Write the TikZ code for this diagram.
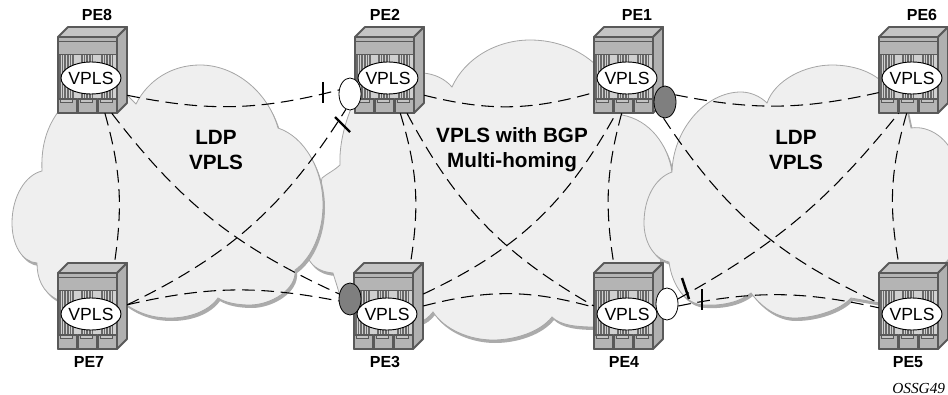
\documentclass[tikz,border=0pt]{standalone}
\usepackage{fontspec}
\setmainfont{Liberation Sans}
\newfontfamily\figfont{Liberation Serif}
\usetikzlibrary{shapes.geometric}
\definecolor{cloudfill}{HTML}{EFEFEF}
\definecolor{cloudedge}{HTML}{A6A6A6}
\definecolor{cloudshade}{HTML}{ABABAB}
\definecolor{rackedge}{HTML}{595959}
\definecolor{racktop}{HTML}{C4C4C4}
\definecolor{rackside}{HTML}{B0B0B0}
\definecolor{rackfront}{HTML}{B4B4B4}
\definecolor{rackgrill}{HTML}{D0D0D0}
\definecolor{rackbar}{HTML}{6A6A6A}
\definecolor{hopdark}{HTML}{7F7F7F}

\begin{document}
\begin{tikzpicture}[x=0.75pt,y=-0.75pt,
	cloudbox/.style={fill=cloudfill, draw=cloudedge, line width=0.6pt},
	cloudback/.style={fill=cloudshade},
	rackline/.style={draw=rackedge, line width=1.4pt, line join=round},
	routerbox/.style={rectangle, inner sep=0, minimum width=51.75pt, minimum height=64.5pt},
	vplsoval/.style={ellipse, draw=black, line width=0.7pt, fill=white, inner sep=-2.5pt, minimum width=45pt, minimum height=24pt, font=\fontsize{13.2}{15}\selectfont},
	hopoval/.style={ellipse, draw=black, line width=0.6pt, inner sep=0, minimum width=16.5pt, minimum height=24pt},
	pwline/.style={dashed, dash pattern=on 9.5pt off 5pt, line width=0.8pt},
	hopbar/.style={line width=1.8pt},
	pelabel/.style={inner sep=0, font=\fontsize{12}{14}\selectfont\bfseries},
	cloudtitle/.style={inner sep=0, align=center, font=\fontsize{15.5}{18.75}\selectfont\bfseries}]
	\clip (0,0) rectangle (948,395);
	\def\routerlist{PE8/58/37, PE2/355/37, PE1/594/37, PE6/879/37, PE7/58/273, PE3/354/273, PE4/594/273, PE5/879/273}
	%% ========================================================
	\def\midcloud{(400,70) -- (423,73) .. controls (435,74) and (445,79) .. (452,87)
		.. controls (465,58) and (497,40) .. (530,40) .. controls (557,40) and (580,50) .. (596,65)
		-- (622,115) .. controls (650,120) and (668,145) .. (672,172) -- (660,265) -- (595,327)
		.. controls (575,327) and (560,325) .. (552,317) .. controls (540,332) and (515,340) .. (493,340)
		.. controls (470,340) and (445,330) .. (433,312) .. controls (428,318) and (425,320) .. (420,322)
		-- (345,310) -- (340,297) .. controls (338,288) and (335,280) .. (333,273)
		.. controls (322,272) and (313,268) .. (308,258) -- (322,178)
		.. controls (328,173) and (335,170) .. (340,165) .. controls (339,145) and (345,120) .. (355,100) -- cycle}
	\def\leftcloud{(136,104) .. controls (148,80) and (172,65) .. (200,65) .. controls (235,65) and (268,92) .. (278,128)
		.. controls (305,137) and (323,170) .. (323,205) .. controls (323,232) and (312,258) .. (295,270)
		.. controls (297,290) and (270,305) .. (250,305) .. controls (238,305) and (226,303) .. (218,298)
		.. controls (208,312) and (188,318) .. (170,318) .. controls (150,318) and (135,312) .. (120,300)
		-- (58,300) .. controls (42,292) and (37,278) .. (37,263) .. controls (22,262) and (12,245) .. (12,223)
		.. controls (12,197) and (25,175) .. (42,171) .. controls (41,150) and (45,130) .. (58,112)
		-- (100,90) -- (127,95) -- cycle}
	\def\rightcloud{(767,103) .. controls (775,80) and (805,65) .. (832,65) .. controls (850,65) and (868,70) .. (880,80)
		-- (905,100) -- (911,128) .. controls (930,125) and (950,140) .. (955,160) -- (955,250)
		.. controls (950,258) and (945,265) .. (937,267) -- (880,303) -- (851,298)
		.. controls (840,310) and (815,318) .. (794,318) .. controls (775,318) and (760,305) .. (751,293)
		.. controls (740,302) and (722,306) .. (705,305) .. controls (685,305) and (672,285) .. (669,262)
		.. controls (652,258) and (644,240) .. (644,223) .. controls (644,198) and (655,178) .. (672,172)
		.. controls (673,130) and (705,92) .. (741,92) .. controls (750,92) and (760,96) .. (767,103) -- cycle}

	\fill[cloudback, shift={(2,3)}] \midcloud;
	\draw[cloudbox] \midcloud;
	\fill[cloudback, shift={(2,3)}] \leftcloud;
	\draw[cloudbox] \leftcloud;
	\fill[cloudback, shift={(2,3)}] \rightcloud;
	\draw[cloudbox] \rightcloud;

	\node[cloudtitle] (titleleft) at (216,150) {LDP\\VPLS};
	\node[cloudtitle] (titlemid) at (512,150) {VPLS with BGP\\Multi-homing};
	\node[cloudtitle] (titleright) at (796,150) {LDP\\VPLS};
	%% ========================================================

	%% ========================================================
	\foreach \name/\xpos/\ypos in \routerlist {
		\begin{scope}[shift={(\xpos,\ypos)}]
			\node[routerbox] (\name) at (34.5,33) {};
			\filldraw[rackline, fill=racktop] (0,0) -- (10,-10) -- (69,-10) -- (59,0) -- cycle;
			\filldraw[rackline, fill=rackside] (59,0) -- (69,-10) -- (69,66) -- (59,76) -- cycle;
			\filldraw[rackline, fill=rackfront] (0,0) rectangle (59,76);
			\fill[rackgrill] (1,18) rectangle (58,62);
			\foreach \stripe in {2,4.6,...,17,24,26.6,...,37,44,46.6,...,57}
				\draw[rackbar, line width=1.1pt] (\stripe,18) -- (\stripe,62);
			\draw[rackline, line width=1.1pt] (0,4.5) -- (59,4.5);
			\draw[rackedge, line width=0.6pt] (0,17) -- (59,17);
			% three cards along the foot
			\foreach \card in {0,20,40} {
				\filldraw[rackline, line width=1pt, fill=rackfront] (\card,62) rectangle ++(19,14);
				\draw[rackedge, line width=0.5pt, fill=racktop] (\card+2,62) rectangle ++(12,3);
			}
		\end{scope}
	}

	\node[hopoval, fill=white] (hopPEtwo) at (350,94) {};
	\node[hopoval, fill=hopdark] (hopPEthree) at (350,299) {};
	\node[hopoval, fill=hopdark] (hopPEone) at (665,102) {};
	\node[hopoval, fill=white] (hopPEfour) at (667,304) {};

	\foreach \name/\xpos/\ypos in \routerlist {
		\node[vplsoval] (vpls\name) at (\xpos+33,\ypos+41) {VPLS};
	}

	\node[pelabel] (labelPE8) at (97,15) {PE8};
	\node[pelabel] (labelPE2) at (385,15) {PE2};
	\node[pelabel] (labelPE1) at (637,15) {PE1};
	\node[pelabel] (labelPE6) at (922,15) {PE6};
	\node[pelabel] (labelPE7) at (89,362) {PE7};
	\node[pelabel] (labelPE3) at (385,362) {PE3};
	\node[pelabel] (labelPE4) at (624,362) {PE4};
	\node[pelabel] (labelPE5) at (908,362) {PE5};
	%% ========================================================

	%% ========================================================
	\draw[pwline] (PE8.-36) to[bend right=13] (hopPEtwo.160);
	\draw[pwline] (PE8.-74) to[bend left=12] (PE7.63);
	\draw[pwline] (PE8.-66) to[bend right=14] (hopPEthree.155);
	\draw[pwline] (PE7.2) to[bend right=16] (hopPEtwo.-105);
	\draw[pwline] (PE7.2) to[bend left=12] (hopPEthree.190);

	\draw[pwline] (PE2.-36) to[bend right=15] (PE1.-147);
	\draw[pwline] (PE2.-76) to[bend left=13] (PE3.63);
	\draw[pwline] (PE2.-68) to[bend right=16] (PE4.180);
	\draw[pwline] (PE3.19) to[bend right=18] (PE1.-106);
	\draw[pwline] (PE3.0) to[bend left=15] (PE4.-178);
	\draw[pwline] (PE1.-99) to[bend right=12] (PE4.109);

	\draw[pwline] (hopPEone.35) to[bend right=12] (PE6.-147);
	\draw[pwline] (hopPEone.-95) to[bend right=16] (PE5.175);
	\draw[pwline] (hopPEfour.25) to[bend right=11] (PE6.-109);
	\draw[pwline] (hopPEfour.-10) to[bend left=12] (PE5.-177);
	\draw[pwline] (PE6.-99) to[bend right=13] (PE5.109);

	\foreach \xa/\ya/\xb/\yb in {323/82/323/103, 335/117/350/132, 682/278/689/299, 702/289/702/310}
		\draw[hopbar] (\xa,\ya) -- (\xb,\yb);
	%% ========================================================

	\node[anchor=west, inner sep=0, font=\figfont\itshape\fontsize{11.5}{13}\selectfont] (figcode) at (892,388) {OSSG49};
\end{tikzpicture}
\end{document}
